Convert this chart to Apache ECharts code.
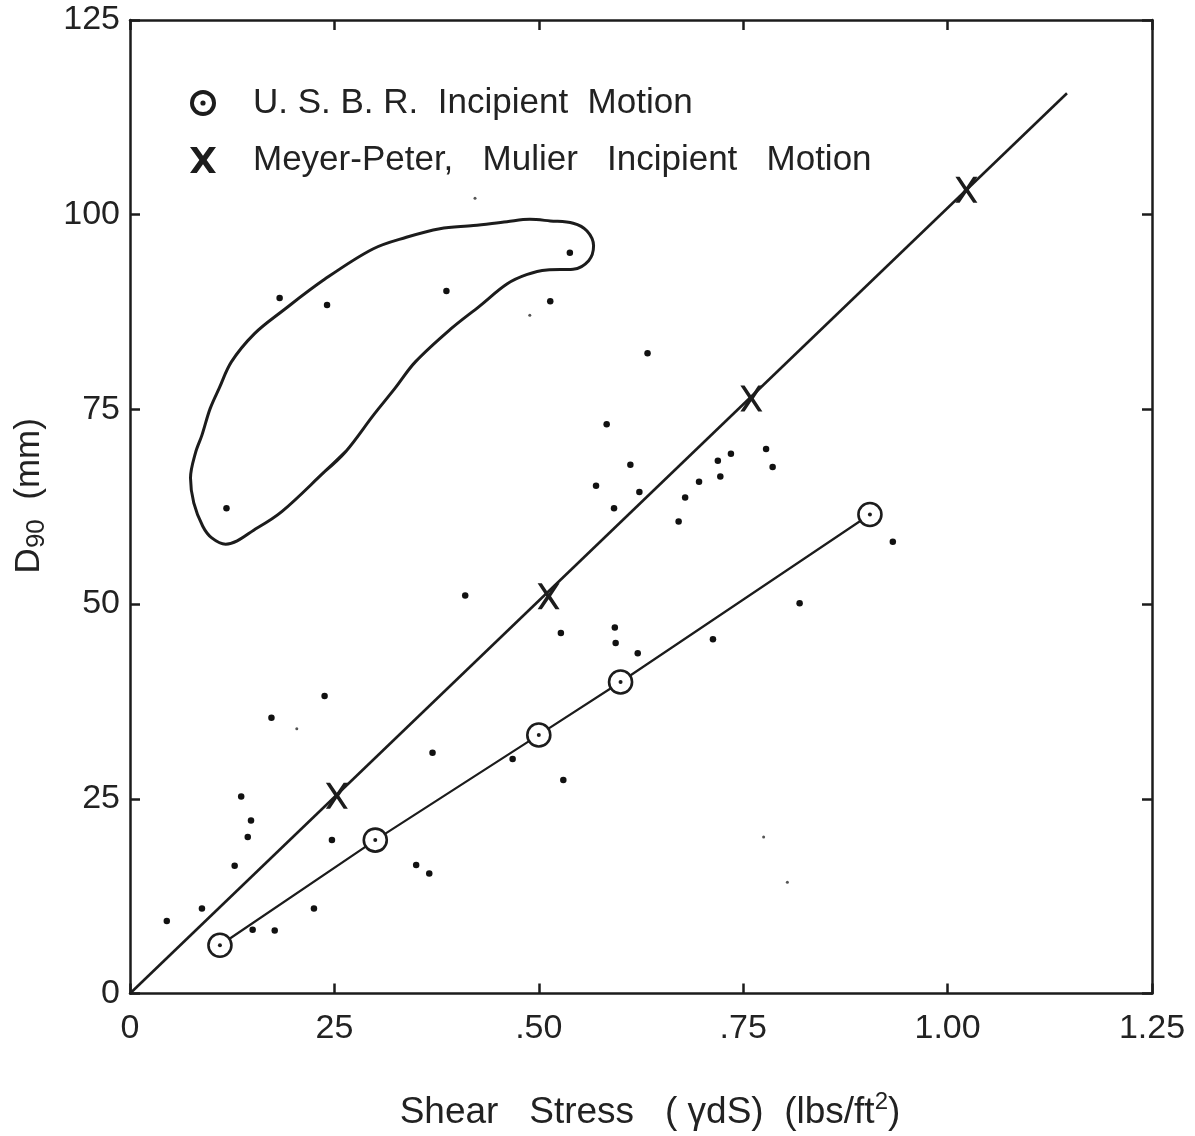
<!DOCTYPE html>
<html>
<head>
<meta charset="utf-8">
<script src="https://cdn.jsdelivr.net/npm/echarts@6/dist/echarts.min.js"></script>
<style>
  html, body { margin: 0; padding: 0; background: #fff; }
  #chart { width: 1195px; height: 1136px; }
</style>
</head>
<body>
<div id="chart"></div>
<script>
// Tick labels as lettered on the plot
const xTickLabels = ['0', '25', '.50', '.75', '1.00', '1.25'];
const yTickLabels = ['0', '25', '50', '75', '100', '125'];

// U.S.B.R. incipient motion (shear stress lbs/ft^2, D90 mm)
const usbrPoints = [[0.11, 6.2], [0.30, 19.7], [0.50, 33.2], [0.60, 40.0], [0.905, 61.5]];

// Meyer-Peter, Muller incipient motion points and the straight line through the origin
const mpmPoints = [[0.253, 25.4], [0.512, 51.0], [0.760, 76.4], [1.023, 103.2]];
const mpmLine = [[0, 0], [1.146, 115.6]];

// Field observations
const fieldDots = [
  [0.045, 9.3], [0.088, 10.9], [0.150, 8.2], [0.177, 8.1], [0.225, 10.9],
  [0.128, 16.4], [0.144, 20.1], [0.148, 22.2], [0.136, 25.3], [0.173, 35.4],
  [0.238, 38.2], [0.247, 19.7], [0.350, 16.5], [0.366, 15.4], [0.370, 30.9],
  [0.468, 30.1], [0.530, 27.4], [0.410, 51.1], [0.527, 46.3], [0.593, 47.0],
  [0.594, 45.0], [0.621, 43.7], [0.713, 45.5], [0.819, 50.1], [0.933, 58.0],
  [0.671, 60.6], [0.679, 63.7], [0.696, 65.7], [0.722, 66.4], [0.719, 68.4],
  [0.735, 69.3], [0.778, 69.9], [0.786, 67.6], [0.570, 65.2], [0.592, 62.3],
  [0.612, 67.9], [0.623, 64.4], [0.583, 73.1], [0.633, 82.2],
  [0.118, 62.3], [0.183, 89.3], [0.241, 88.4], [0.387, 90.2], [0.514, 88.9], [0.538, 95.1]
];
const faintDots = [[0.204, 34.0], [0.422, 102.1], [0.489, 87.1], [0.804, 14.3], [0.775, 20.1]];

// Outline enclosing the outlying group of observations (closed loop)
const envelope = [
  [0.264, 69.6], [0.238, 67.0], [0.186, 61.9], [0.156, 59.8], [0.117, 57.7],
  [0.100, 58.5], [0.089, 60.0], [0.078, 63.0], [0.074, 66.2], [0.080, 69.4],
  [0.088, 71.7], [0.098, 75.1], [0.109, 77.7], [0.124, 81.1], [0.152, 84.7],
  [0.186, 87.6], [0.238, 91.7], [0.297, 95.6], [0.338, 97.1], [0.379, 98.2],
  [0.420, 98.6], [0.461, 99.1], [0.489, 99.4], [0.514, 99.2], [0.542, 98.9],
  [0.559, 97.9], [0.567, 96.0], [0.561, 94.1], [0.542, 93.0], [0.510, 92.9],
  [0.485, 92.3], [0.461, 91.1], [0.428, 88.3], [0.392, 85.3], [0.349, 81.1],
  [0.324, 77.7], [0.298, 74.3], [0.264, 69.6]
];
// run once more over the first segment so the joint of the loop is smoothed too
const envelopeClosed = envelope.concat([envelope[1]]);

const usbrName = 'U. S. B. R.  Incipient  Motion';
const mpmName = 'Meyer-Peter,   Mulier   Incipient   Motion';

const INK = '#1c1c1c';
const FONT = 'Liberation Sans';

// Ring with a centre dot, and crosses
const ringDotPath = 'path://M10,0 A10,10 0 1,1 -10,0 A10,10 0 1,1 10,0 Z M7,0 A7,7 0 1,0 -7,0 A7,7 0 1,0 7,0 Z M2,0 A2,2 0 1,1 -2,0 A2,2 0 1,1 2,0 Z';
const crossPath = 'path://M0,0 L1.9,0 L5,3.9 L8.1,0 L10,0 L6.1,5 L10,10 L8.1,10 L5,6.1 L1.9,10 L0,10 L3.9,5 Z';
const legendCrossPath = 'path://M0,0 L2.6,0 L5,3.4 L7.4,0 L10,0 L6.4,5 L10,10 L7.4,10 L5,6.6 L2.6,10 L0,10 L3.6,5 Z';

const chart = echarts.init(document.getElementById('chart'), null, { renderer: 'canvas' });

const axisCommon = {
  type: 'value',
  axisLine: { show: true, onZero: false, lineStyle: { color: INK, width: 2.5 } },
  axisTick: { show: true, inside: true, length: 10, lineStyle: { color: INK, width: 2.5 } },
  splitLine: { show: false }
};

chart.setOption({
  backgroundColor: '#fff',
  animation: false,
  textStyle: { fontFamily: FONT, color: '#222' },
  grid: { left: 130, right: 43, top: 20, bottom: 139, containLabel: false },
  legend: {
    left: 185,
    top: 78,
    orient: 'vertical',
    itemWidth: 26,
    itemHeight: 27,
    itemGap: 17,
    selectedMode: false,
    textStyle: { fontFamily: FONT, fontSize: 35, lineHeight: 40, color: '#222', padding: [0, 0, 0, 32] },
    data: [
      { name: usbrName, icon: ringDotPath, itemStyle: { color: INK, borderWidth: 0, opacity: 1 } },
      { name: mpmName, icon: legendCrossPath, itemStyle: { color: INK, borderWidth: 0, opacity: 1 } }
    ]
  },
  xAxis: [
    Object.assign({}, axisCommon, {
      position: 'bottom', min: 0, max: 1.25, interval: 0.25,
      axisLabel: {
        margin: 18, fontSize: 34, color: '#222', fontFamily: FONT,
        formatter: v => xTickLabels[Math.round(v / 0.25)]
      },
      name: '{t|Shear   Stress   ( γdS)  (lbs/ft}{sup|2}{t|)}',
      nameLocation: 'middle',
      nameGap: 97,
      nameTextStyle: {
        padding: [0, 0, 0, 18],
        rich: {
          t: { fontFamily: FONT, fontSize: 37, color: '#222', lineHeight: 44 },
          sup: { fontFamily: FONT, fontSize: 24, color: '#222', verticalAlign: 'top', lineHeight: 44 }
        }
      }
    }),
    Object.assign({}, axisCommon, {
      position: 'top', min: 0, max: 1.25, interval: 0.25,
      axisLabel: { show: false }
    })
  ],
  yAxis: [
    Object.assign({}, axisCommon, {
      position: 'left', min: 0, max: 125, interval: 25,
      axisLabel: {
        margin: 10, fontSize: 34, color: '#222', fontFamily: FONT,
        formatter: v => yTickLabels[Math.round(v / 25)]
      },
      name: '{b|D}{s|90}{b|  (mm)}',
      nameLocation: 'middle',
      nameRotate: 90,
      nameGap: 80,
      nameTextStyle: {
        padding: [0, 0, 0, 22],
        rich: {
          b: { fontFamily: FONT, fontSize: 35, color: '#222', lineHeight: 42 },
          s: { fontFamily: FONT, fontSize: 26, color: '#222', verticalAlign: 'bottom', lineHeight: 42 }
        }
      }
    }),
    Object.assign({}, axisCommon, {
      position: 'right', min: 0, max: 125, interval: 25,
      axisLabel: { show: false }
    })
  ],
  series: [
    {
      name: 'envelope',
      type: 'line',
      data: envelopeClosed,
      smooth: 0.35,
      showSymbol: false,
      symbol: 'none',
      lineStyle: { color: INK, width: 3 },
      silent: true,
      z: 2
    },
    {
      name: 'field',
      type: 'scatter',
      data: fieldDots,
      symbol: 'circle',
      symbolSize: 6.5,
      itemStyle: { color: '#111', opacity: 1 },
      silent: true,
      z: 3
    },
    {
      name: 'faint',
      type: 'scatter',
      data: faintDots,
      symbol: 'circle',
      symbolSize: 3,
      itemStyle: { color: '#555', opacity: 1 },
      silent: true,
      z: 3
    },
    {
      name: 'mpm line',
      type: 'line',
      data: mpmLine,
      symbol: 'none',
      lineStyle: { color: INK, width: 2.6 },
      silent: true,
      z: 4
    },
    {
      name: mpmName,
      type: 'scatter',
      data: mpmPoints,
      symbol: crossPath,
      symbolSize: [22, 26],
      itemStyle: { color: INK, opacity: 1 },
      silent: true,
      z: 5
    },
    {
      name: usbrName,
      type: 'line',
      data: usbrPoints,
      symbol: 'circle',
      symbolSize: 23,
      showAllSymbol: true,
      lineStyle: { color: INK, width: 2.2 },
      itemStyle: { color: '#fff', borderColor: INK, borderWidth: 2.6 },
      silent: true,
      z: 6
    },
    {
      name: 'usbr centre',
      type: 'scatter',
      data: usbrPoints,
      symbol: 'circle',
      symbolSize: 4,
      itemStyle: { color: INK, opacity: 1 },
      silent: true,
      z: 7
    }
  ]
});
</script>
</body>
</html>
